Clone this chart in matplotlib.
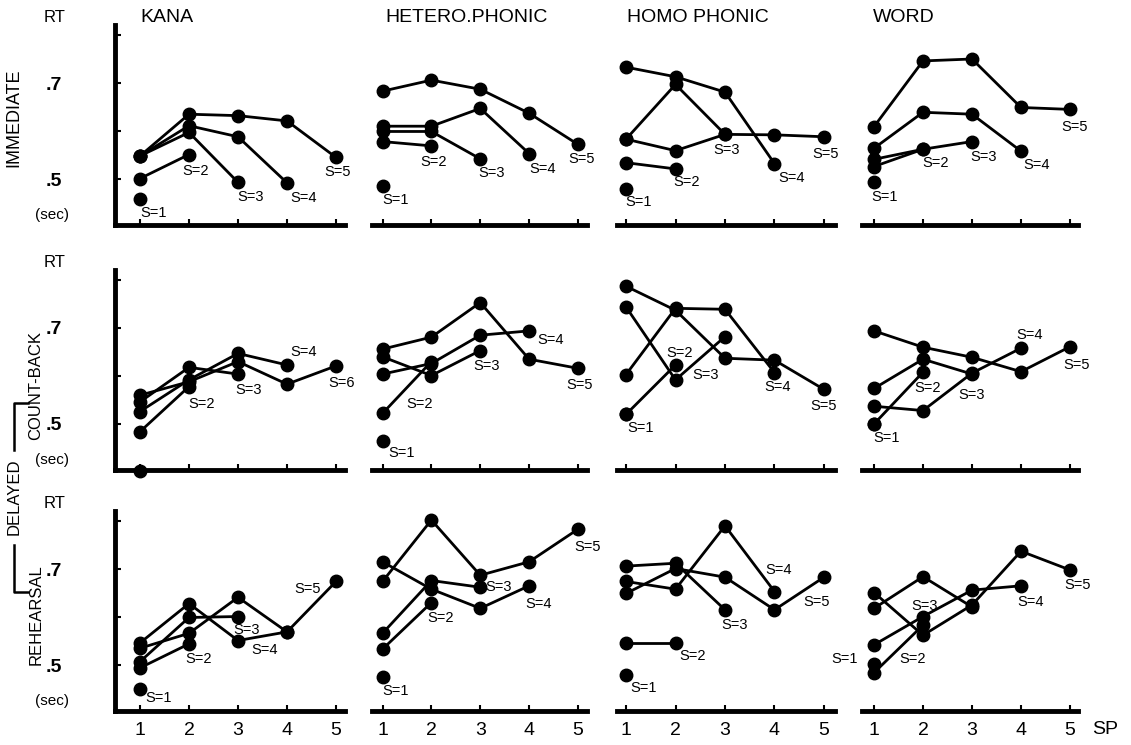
import matplotlib.pyplot as plt
from matplotlib.lines import Line2D

plt.rcParams['font.family'] = ['Liberation Sans', 'DejaVu Sans']

conditions = ["KANA", "HETERO.PHONIC", "HOMO PHONIC", "WORD"]
tasks = ["IMMEDIATE", "COUNT-BACK", "REHEARSAL"]
sp_ticks = [1, 2, 3, 4, 5]

# RT (sec) by serial position, one list per set size S=1..5
kana_imm = [[0.458], [0.501, 0.551], [0.548, 0.597, 0.493],
            [0.548, 0.611, 0.588, 0.492], [0.548, 0.635, 0.632, 0.621, 0.545]]
hetero_imm = [[0.486], [0.578, 0.569], [0.599, 0.599, 0.542],
              [0.610, 0.610, 0.647, 0.553], [0.683, 0.706, 0.687, 0.637, 0.572]]
homo_imm = [[0.479], [0.534, 0.521], [0.583, 0.697, 0.593],
            [0.733, 0.713, 0.681, 0.532], [0.583, 0.559, 0.593, 0.592, 0.588]]
word_imm = [[0.494], [0.541, 0.562], [0.526, 0.562, 0.578],
            [0.564, 0.639, 0.635, 0.558], [0.609, 0.746, 0.750, 0.649, 0.645]]

kana_cb = [[0.402], [0.484, 0.578], [0.546, 0.618, 0.604],
           [0.526, 0.592, 0.647, 0.623], [0.560, 0.588, 0.630, 0.583, 0.621]]
hetero_cb = [[0.465], [0.522, 0.630], [0.640, 0.601, 0.653],
             [0.604, 0.626, 0.685, 0.694], [0.656, 0.681, 0.753, 0.635, 0.616]]
homo_cb = [[0.520], [0.520, 0.623], [0.744, 0.592, 0.682],
           [0.603, 0.741, 0.739, 0.607], [0.787, 0.737, 0.637, 0.633, 0.572]]
word_cb = [[0.500], [0.500, 0.608], [0.574, 0.635, 0.604],
           [0.537, 0.528, 0.606, 0.658], [0.694, 0.660, 0.639, 0.609, 0.661]]

kana_reh = [[0.449], [0.494, 0.544], [0.507, 0.599, 0.601],
            [0.546, 0.628, 0.551, 0.569], [0.535, 0.566, 0.641, 0.569, 0.674]]
hetero_reh = [[0.474], [0.533, 0.630], [0.566, 0.676, 0.662],
              [0.715, 0.658, 0.618, 0.665], [0.674, 0.802, 0.687, 0.715, 0.783]]
homo_reh = [[0.479], [0.545, 0.545], [0.706, 0.712, 0.615],
            [0.674, 0.658, 0.790, 0.653], [0.649, 0.701, 0.683, 0.615, 0.683]]
word_reh = [[0.503], [0.484, 0.583], [0.618, 0.684, 0.621],
            [0.542, 0.601, 0.656, 0.665], [0.651, 0.562, 0.625, 0.737, 0.698]]

panels = [[kana_imm, hetero_imm, homo_imm, word_imm],
          [kana_cb, hetero_cb, homo_cb, word_cb],
          [kana_reh, hetero_reh, homo_reh, word_reh]]

s_labels = ["S=1", "S=2", "S=3", "S=4", "S=5"]
kana_cb_labels = ["S=1", "S=2", "S=3", "S=4", "S=6"]   # as printed

# label offsets from the last point of each series (pixels, x right / y up)
label_off = [
    [[(14, -14), (7, -16), (13, -15), (17, -15), (2, -15)],
     [(13, -14), (2, -16), (11, -14), (13, -15), (4, -15)],
     [(13, -13), (11, -13), (2, -16), (17, -14), (2, -17)],
     [(11, -15), (13, -14), (12, -15), (16, -14), (5, -18)]],
    [[(17, 11), (13, -17), (11, -16), (17, 13), (6, -17)],
     [(19, -12), (-12, -42), (6, -15), (21, -9), (2, -17)],
     [(15, -14), (4, 12), (-19, -38), (3, -14), (0, -17)],
     [(13, -14), (5, -16), (0, -21), (9, 13), (7, -18)]],
    [[(19, -9), (10, -15), (9, -13), (-22, -18), (-28, -8)],
     [(13, -14), (9, -15), (18, 0), (9, -18), (10, -18)],
     [(18, -13), (17, -13), (10, -15), (4, 22), (-7, -25)],
     [(-29, 5), (-10, -34), (-47, 1), (10, -16), (8, -15)]],
]

W, H = 1131, 745
fig = plt.figure(figsize=(W / 100, H / 100), dpi=100)

# pixel layout: axes left/right and pixel x of SP=1 and SP=5
cols = [(115, 345, 140, 336), (372, 587, 382.5, 578),
        (617, 835, 626, 824), (862, 1078, 874, 1070)]
row_p5 = [179, 424, 665]        # pixel y of RT=.5 in each row
ppu = 480.0                      # pixels per 1 sec
ylo, yhi = 0.405, 0.82

for r in range(3):
    p5 = row_p5[r]
    bot = p5 + (0.5 - ylo) * ppu
    top = p5 - (yhi - 0.5) * ppu
    for c in range(4):
        left, right, x1, x5 = cols[c]
        unit = (x5 - x1) / 4
        ax = fig.add_axes([left / W, 1 - bot / H, (right - left) / W, (bot - top) / H])
        ax.set_xlim(1 - (x1 - left) / unit, 5 + (right - x5) / unit)
        ax.set_ylim(ylo, yhi)
        ax.patch.set_alpha(0)
        for side in ['top', 'right']:
            ax.spines[side].set_visible(False)
        ax.spines['bottom'].set_linewidth(3.5)
        ax.spines['left'].set_linewidth(3.5)
        ax.set_xticks(sp_ticks)
        ax.tick_params(axis='x', direction='in', length=4, width=1.5, labelsize=14, pad=8)
        if r < 2:
            ax.set_xticklabels([])
        if c == 0:
            ax.set_yticks([0.5, 0.6, 0.7, 0.8])
            ax.set_yticklabels(['.5', '', '.7', ''])
            ax.tick_params(axis='y', direction='in', length=4, width=1.5,
                           labelsize=14, pad=38)
            for t in ax.get_yticklabels():
                t.set_fontweight('bold')
        else:
            ax.spines['left'].set_visible(False)
            ax.set_yticks([])

        data = panels[r][c]
        labels = kana_cb_labels if (r == 1 and c == 0) else s_labels
        for k, series in enumerate(data):
            xs = sp_ticks[:len(series)]
            ax.plot(xs, series, color='black', lw=2, marker='o', ms=9,
                    solid_joinstyle='round', clip_on=False)
            dx, dy = label_off[r][c][k]
            ax.annotate(labels[k], (xs[-1], series[-1]), xytext=(dx, dy),
                        textcoords='offset pixels', ha='center', va='center',
                        fontsize=10.5)

    # y-axis annotations of the first column
    fig.text(55 / W, 1 - (top - 8) / H, "RT", ha='center', va='center', fontsize=12)
    fig.text(52 / W, 1 - (p5 + 36) / H, "(sec)", ha='center', va='center', fontsize=11)

for c, name in enumerate(conditions):
    cx = [167, 467, 698, 904][c]
    fig.text(cx / W, 1 - 17 / H, name, ha='center', va='center', fontsize=14)

fig.text(14 / W, 1 - 118 / H, tasks[0], rotation=90, ha='center', va='center', fontsize=13)
fig.text(36 / W, 1 - 385 / H, tasks[1], rotation=90, ha='center', va='center', fontsize=12)
fig.text(36 / W, 1 - 615 / H, tasks[2], rotation=90, ha='center', va='center', fontsize=12)
fig.text(14 / W, 1 - 497 / H, "DELAYED", rotation=90, ha='center', va='center', fontsize=12)

# bracket for DELAYED
for xs, ys in [([28, 14, 14], [403, 403, 450]), ([14, 14, 28], [545, 592, 592])]:
    fig.add_artist(Line2D([x / W for x in xs], [1 - y / H for y in ys],
                          color='black', lw=1.8))

fig.text(1105 / W, 1 - 730 / H, "SP", ha='center', va='center', fontsize=14)

fig.savefig("out.png", dpi=100)
